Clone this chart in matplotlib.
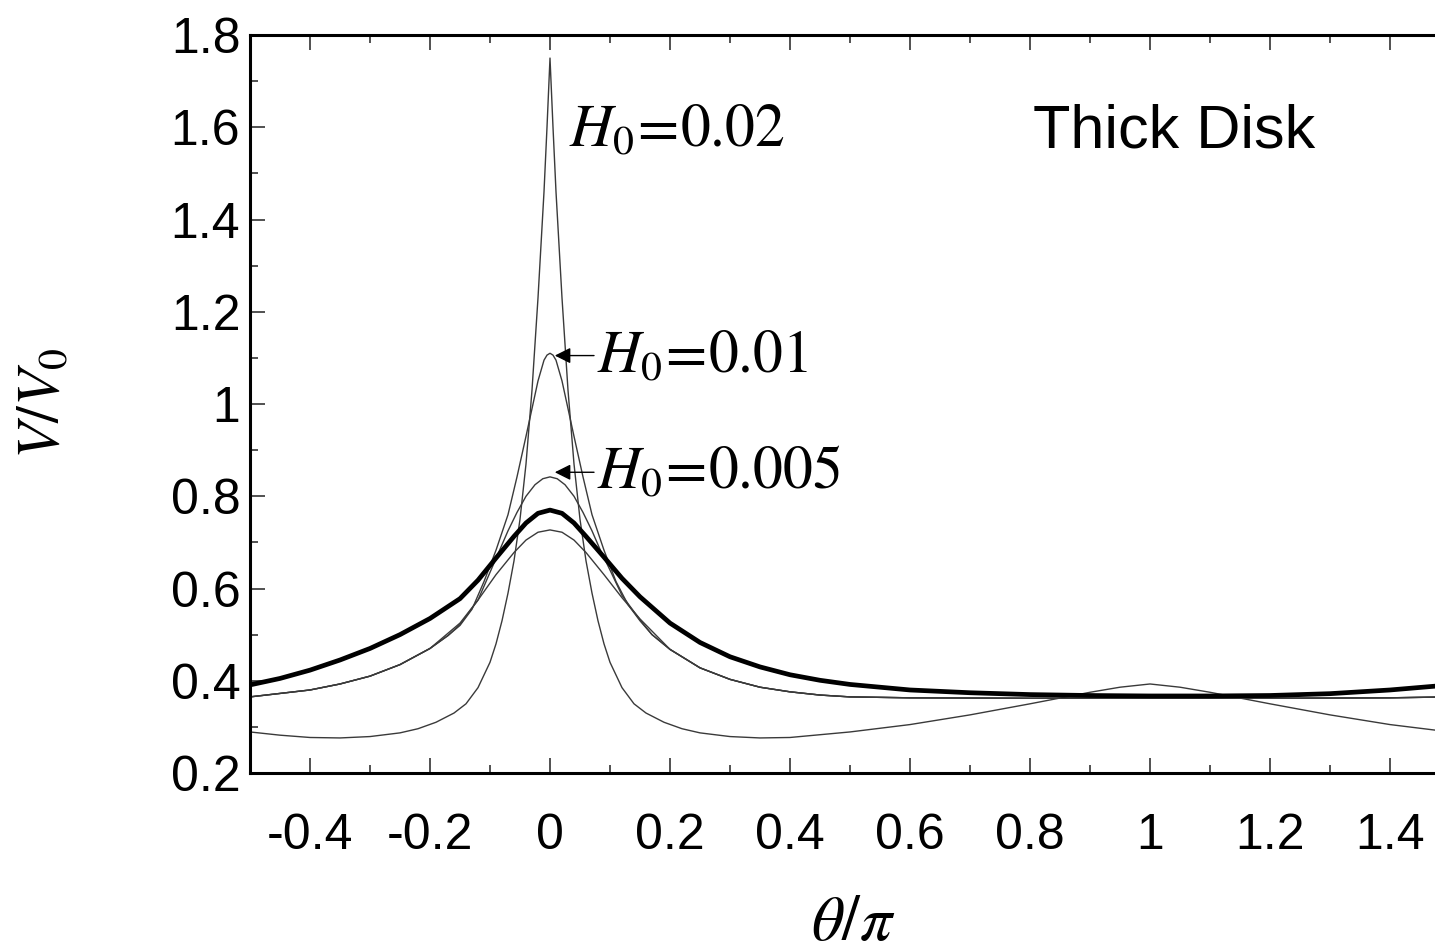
import numpy as np
import matplotlib
matplotlib.use("Agg")
import matplotlib.pyplot as plt

plt.rcParams['mathtext.fontset'] = 'stix'

# ---- data ----
# H0 = 0.02 (sharp peak)
x_A = [-0.5, -0.45, -0.4, -0.35, -0.3, -0.25, -0.22, -0.19, -0.16, -0.14, -0.12, -0.1, -0.09, -0.08,
       -0.07, -0.06, -0.05, -0.04, -0.03, -0.02, -0.01, -0.005, 0.0, 0.005, 0.01, 0.02, 0.03, 0.04,
       0.05, 0.06, 0.07, 0.08, 0.09, 0.1, 0.12, 0.14, 0.16, 0.19, 0.22, 0.25, 0.3, 0.35, 0.4, 0.5,
       0.6, 0.7, 0.8, 0.9, 0.95, 1.0, 1.05, 1.1, 1.2, 1.3, 1.4, 1.5]
y_A = [0.289, 0.282, 0.277, 0.276, 0.279, 0.287, 0.296, 0.31, 0.33, 0.35, 0.385, 0.44, 0.48, 0.53,
       0.59, 0.66, 0.75, 0.87, 1.03, 1.23, 1.46, 1.60, 1.75, 1.60, 1.46, 1.23, 1.03, 0.87,
       0.75, 0.66, 0.59, 0.53, 0.48, 0.44, 0.385, 0.35, 0.33, 0.31, 0.296, 0.287, 0.279, 0.276, 0.277, 0.289,
       0.305, 0.326, 0.35, 0.375, 0.386, 0.393, 0.386, 0.375, 0.35, 0.326, 0.305, 0.289]

# H0 = 0.01
x_B = [-0.5, -0.4, -0.35, -0.3, -0.25, -0.2, -0.17, -0.15, -0.13, -0.11, -0.09, -0.07, -0.055,
       -0.04, -0.03, -0.02, -0.01, -0.005, 0.0, 0.005, 0.01, 0.02, 0.03, 0.04, 0.055, 0.07, 0.09,
       0.11, 0.13, 0.15, 0.17, 0.2, 0.25, 0.3, 0.35, 0.4, 0.45, 0.5, 0.6, 0.8, 1.0, 1.2, 1.4, 1.5]
y_B = [0.365, 0.38, 0.393, 0.41, 0.435, 0.47, 0.498, 0.52, 0.555, 0.615, 0.683, 0.76, 0.842,
       0.93, 0.99, 1.05, 1.095, 1.106, 1.11, 1.106, 1.095, 1.05, 0.99, 0.93, 0.842, 0.76, 0.683,
       0.615, 0.565, 0.53, 0.50, 0.468, 0.428, 0.403, 0.386, 0.376, 0.369, 0.365, 0.363, 0.362, 0.362,
       0.362, 0.363, 0.365]

# H0 = 0.005
x_C = [-0.5, -0.4, -0.35, -0.3, -0.25, -0.2, -0.17, -0.15, -0.12, -0.1, -0.085, -0.07, -0.055,
       -0.04, -0.025, -0.012, 0.0, 0.012, 0.025, 0.04, 0.055, 0.07, 0.085, 0.1, 0.12, 0.15, 0.17,
       0.2, 0.25, 0.3, 0.35, 0.4, 0.45, 0.5, 0.6, 0.8, 1.0, 1.2, 1.4, 1.5]
y_C = [0.365, 0.38, 0.393, 0.41, 0.435, 0.47, 0.498, 0.522, 0.575, 0.635, 0.68, 0.725, 0.765,
       0.80, 0.825, 0.838, 0.842, 0.838, 0.825, 0.80, 0.765, 0.725, 0.68, 0.64, 0.585, 0.532, 0.50,
       0.468, 0.428, 0.403, 0.386, 0.376, 0.369, 0.365, 0.363, 0.362, 0.362, 0.362, 0.363, 0.365]

# thick curve
x_D = [-0.5, -0.45, -0.4, -0.35, -0.3, -0.25, -0.2, -0.15, -0.12, -0.09, -0.06, -0.04, -0.02,
       0.0, 0.02, 0.04, 0.06, 0.09, 0.12, 0.15, 0.2, 0.25, 0.3, 0.35, 0.4, 0.45, 0.5, 0.6, 0.7,
       0.8, 0.9, 1.0, 1.1, 1.2, 1.3, 1.4, 1.5]
y_D = [0.391, 0.405, 0.423, 0.445, 0.47, 0.5, 0.535, 0.578, 0.618, 0.666, 0.713, 0.742, 0.763,
       0.77, 0.763, 0.742, 0.713, 0.668, 0.622, 0.582, 0.525, 0.483, 0.452, 0.43, 0.413, 0.401,
       0.392, 0.38, 0.374, 0.37, 0.368, 0.367, 0.367, 0.368, 0.372, 0.38, 0.391]

# lowest-peak thin curve
x_E = [-0.5, -0.4, -0.35, -0.3, -0.25, -0.2, -0.15, -0.12, -0.09, -0.06, -0.04, -0.02, 0.0,
       0.02, 0.04, 0.06, 0.09, 0.12, 0.15, 0.2, 0.25, 0.3, 0.35, 0.4, 0.45, 0.5, 0.6, 0.8, 1.0,
       1.2, 1.4, 1.5]
y_E = [0.365, 0.38, 0.393, 0.41, 0.435, 0.47, 0.525, 0.575, 0.63, 0.678, 0.705, 0.722, 0.727,
       0.722, 0.705, 0.678, 0.63, 0.58, 0.534, 0.468, 0.428, 0.403, 0.386, 0.376, 0.369, 0.365,
       0.363, 0.362, 0.362, 0.362, 0.363, 0.365]

x_ticks = [-0.4, -0.2, 0, 0.2, 0.4, 0.6, 0.8, 1, 1.2, 1.4]
x_ticklabels = ['-0.4', '-0.2', '0', '0.2', '0.4', '0.6', '0.8', '1', '1.2', '1.4']
y_ticks = [0.2, 0.4, 0.6, 0.8, 1.0, 1.2, 1.4, 1.6, 1.8]
y_ticklabels = ['0.2', '0.4', '0.6', '0.8', '1', '1.2', '1.4', '1.6', '1.8']

# ---- figure ----
W, H = 1435, 951
fig = plt.figure(figsize=(W / 100, H / 100), dpi=100)
ax = fig.add_axes([250 / W, 1 - 773 / H, 1200 / W, 738 / H])

thin = dict(color='#3a3a3a', lw=1.0)
ax.plot(x_A, y_A, **thin)
ax.plot(x_B, y_B, **thin)
ax.plot(x_C, y_C, **thin)
ax.plot(x_E, y_E, **thin)
ax.plot(x_D, y_D, color='black', lw=3.4)

ax.set_xlim(-0.5, 1.5)
ax.set_ylim(0.2, 1.8)
ax.set_xticks(x_ticks)
ax.set_xticklabels(x_ticklabels)
ax.set_yticks(y_ticks)
ax.set_yticklabels(y_ticklabels)
ax.set_xticks(np.arange(-0.5, 1.51, 0.1), minor=True)
ax.set_yticks(np.arange(0.2, 1.81, 0.1), minor=True)

for s in ax.spines.values():
    s.set_linewidth(2.2)
ax.tick_params(which='both', direction='in', top=True, right=True, width=1.2, color='#333333')
ax.tick_params(which='major', length=11)
ax.tick_params(which='minor', length=5.5)
ax.tick_params(axis='both', which='major', labelsize=36)
ax.tick_params(axis='y', which='major', pad=7)
ax.tick_params(axis='x', which='major', pad=29)
for lab in ax.get_xticklabels() + ax.get_yticklabels():
    lab.set_family('Liberation Sans')

fig.text(43 / W, 1 - 403 / H, r'$V/V_0$', fontsize=43, rotation=90, ha='center', va='center')
fig.text(853 / W, 1 - 922 / H, r'$\theta/\pi$', fontsize=46, ha='center', va='center')

ax.text(0.032, 1.595, r'$H_0\!=\!\mathrm{0.02}$', fontsize=43, va='center', ha='left')
ax.text(0.805, 1.59, 'Thick Disk', fontsize=44, va='center', ha='left', family='Liberation Sans')

ax.annotate(r'$H_0\!=\!\mathrm{0.01}$', xy=(0.008, 1.105), xytext=(0.078, 1.105),
            fontsize=43, va='center', ha='left',
            arrowprops=dict(arrowstyle='-|>', color='black', lw=1.0, mutation_scale=24,
                            shrinkA=0, shrinkB=0))
ax.annotate(r'$H_0\!=\!\mathrm{0.005}$', xy=(0.008, 0.852), xytext=(0.078, 0.852),
            fontsize=43, va='center', ha='left',
            arrowprops=dict(arrowstyle='-|>', color='black', lw=1.0, mutation_scale=24,
                            shrinkA=0, shrinkB=0))

fig.savefig('out.png', dpi=100)
